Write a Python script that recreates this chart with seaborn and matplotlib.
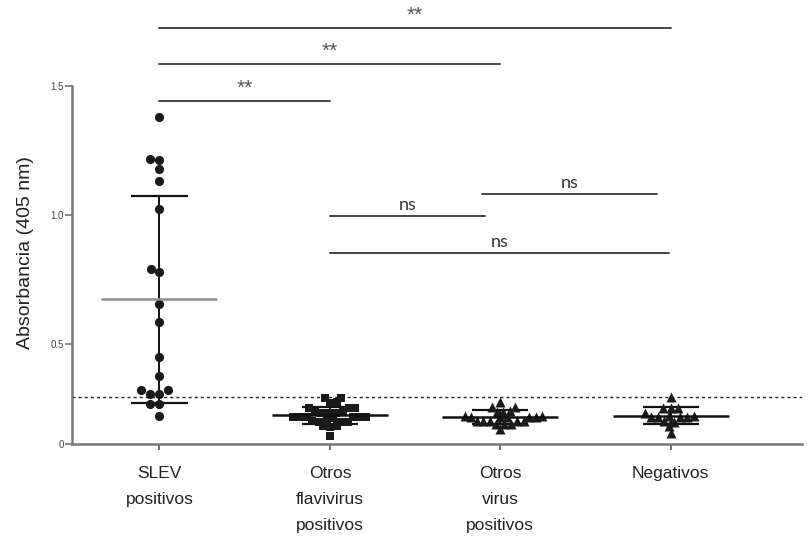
import numpy as np
import pandas as pd
import matplotlib
matplotlib.use("Agg")
import matplotlib.pyplot as plt
import seaborn as sns

# Categories and absorbance readings (405 nm) per group
grupos = ["SLEV\npositivos", "Otros\nflavivirus\npositivos",
          "Otros\nvirus\npositivos", "Negativos"]

slev_pos = [1.379, 1.216, 1.212, 1.177, 1.132, 1.022, 0.790, 0.780, 0.655,
            0.585, 0.450, 0.375, 0.320, 0.307, 0.307, 0.320, 0.266, 0.266, 0.220]
flavi_pos = [0.290, 0.289, 0.273, 0.272, 0.251, 0.250, 0.252, 0.234, 0.235,
             0.233, 0.234, 0.236, 0.216, 0.217, 0.215, 0.216, 0.218, 0.214,
             0.216, 0.199, 0.200, 0.198, 0.199, 0.201, 0.180, 0.181, 0.179, 0.143]
virus_pos = [0.276, 0.257, 0.256, 0.238, 0.239, 0.237, 0.218, 0.219, 0.217,
             0.218, 0.216, 0.220, 0.218, 0.202, 0.203, 0.201, 0.202, 0.200,
             0.189, 0.190, 0.188, 0.169]
negativos = [0.296, 0.251, 0.252, 0.250, 0.234, 0.218, 0.219, 0.217, 0.218,
             0.216, 0.220, 0.199, 0.200, 0.180, 0.154]

valores = [slev_pos, flavi_pos, virus_pos, negativos]
marcadores = ["o", "s", "^", "^"]
# swarm packing size and drawn marker size (points overlap slightly, Prism style)
tam_empaque = [6.4, 4.6, 4.6, 5.0]
tam_marca = [6.6, 6.4, 7.2, 7.2]
color_media = ["#8c8c8c", "#111111", "#111111", "#111111"]

corte = 0.295  # cut-off line
y_min_eje = 0.112

# Comparisons: (x start, x end, height, label)
comparaciones = [
    (0.0, 3.0, 1.725, "**"),
    (0.0, 2.0, 1.585, "**"),
    (0.0, 1.0, 1.442, "**"),
    (1.89, 2.92, 1.081, "ns"),
    (1.0, 1.91, 0.996, "ns"),
    (1.0, 2.99, 0.853, "ns"),
]

df = pd.concat(
    [pd.DataFrame({"grupo": g, "abs": v}) for g, v in zip(grupos, valores)],
    ignore_index=True)

sns.set_style("white")
plt.rcParams["font.family"] = ["Liberation Sans", "DejaVu Sans"]

fig = plt.figure(figsize=(8.08, 5.51), dpi=100)
ax = fig.add_axes([72 / 808, 1 - 444 / 551, (802 - 72) / 808, (444 - 86) / 551])

colecciones = []
for g, m, t in zip(grupos, marcadores, tam_empaque):
    n_prev = len(ax.collections)
    sns.swarmplot(data=df[df["grupo"] == g], x="grupo", y="abs", order=grupos,
                  marker=m, color="#1a1a1a", size=t, linewidth=0, ax=ax,
                  zorder=3)
    colecciones.append(ax.collections[n_prev:])

ax.set_xlim(-0.513, 3.77)
ax.set_ylim(y_min_eje, 1.5)

# Lay out the swarms once, then freeze positions and enlarge the markers
fig.canvas.draw()
for cols, t in zip(colecciones, tam_marca):
    for c in cols:
        if "draw" in c.__dict__:
            del c.draw
        c.set_sizes([t ** 2])

# Mean and SD bars
for i, v in enumerate(valores):
    arr = np.asarray(v)
    media = arr.mean()
    sd = arr.std(ddof=1)
    ax.vlines(i, media - sd, media + sd, color="#111111", lw=1.4, zorder=2)
    ax.hlines([media - sd, media + sd], i - 0.165, i + 0.165,
              color="#111111", lw=1.6, zorder=2)
    ax.hlines(media, i - 0.34, i + 0.34, color=color_media[i], lw=1.8, zorder=4)

ax.axhline(corte, color="#222222", lw=1.0, ls=(0, (2.2, 2.2)), zorder=1)

# Significance brackets
for x0, x1, h, txt in comparaciones:
    ax.plot([x0, x1], [h, h], color="#444444", lw=1.4, clip_on=False)
    if txt == "**":
        ax.text((x0 + x1) / 2, h + 0.048, txt, ha="center", va="center",
                fontsize=15, color="#555555", clip_on=False)
    else:
        ax.text((x0 + x1) / 2, h + 0.012, txt, ha="center", va="bottom",
                fontsize=13, color="#333333", family=["Lato", "DejaVu Sans"],
                clip_on=False)

ax.set_yticks([y_min_eje, 0.5, 1.0, 1.5])
ax.set_yticklabels(["0", "0.5", "1.0", "1.5"], fontsize=7, color="#444444")
ax.set_xticks(range(len(grupos)))
ax.set_xticklabels(grupos, fontsize=12.5, color="#222222", linespacing=1.9)
ax.set_xlabel("")
ax.set_ylabel("Absorbancia (405 nm)", fontsize=14, color="#222222")
ax.yaxis.set_label_coords(-0.052, 0.536)

for s in ["top", "right"]:
    ax.spines[s].set_visible(False)
for s in ["left", "bottom"]:
    ax.spines[s].set_color("#777777")
    ax.spines[s].set_linewidth(1.8)
ax.tick_params(axis="y", which="both", left=True, length=5, width=1.2,
               color="#777777", pad=1)
ax.tick_params(axis="x", which="both", bottom=True, length=4, width=1.2,
               color="#555555", pad=12)

fig.savefig("out.png", dpi=100)
